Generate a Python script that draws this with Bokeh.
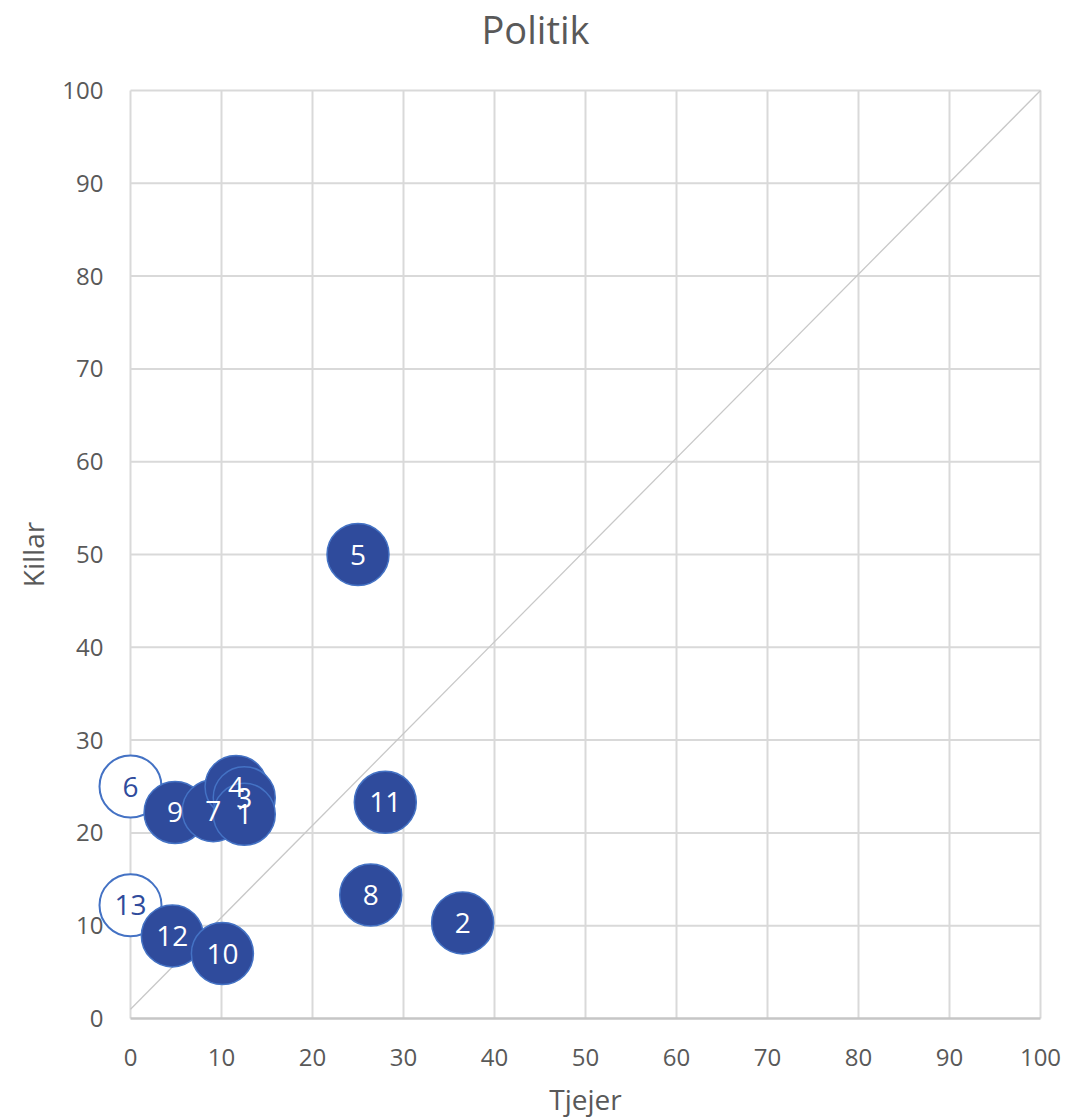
from bokeh.plotting import figure
from bokeh.models import Range1d, FixedTicker, ColumnDataSource, Label
from bokeh.core.properties import value
from bokeh.embed import file_html
from bokeh.resources import INLINE

# ---- data ----
labels = ["1", "2", "3", "4", "5", "6", "7", "8", "9", "10", "11", "12", "13"]
tjejer = [12.5, 36.5, 12.5, 11.6, 25.0, 0.0, 9.1, 26.4, 4.9, 10.1, 28.0, 4.6, 0.0]
killar = [22.0, 10.3, 23.8, 25.0, 50.0, 25.0, 22.4, 13.3, 22.2, 7.0, 23.3, 8.9, 12.2]
open_points = ["6", "13"]
diag_x = [0, 100]
diag_y = [1, 100]
ticks = [0, 10, 20, 30, 40, 50, 60, 70, 80, 90, 100]
title_text = "Politik"

FONT = "Open Sans"
GRAY = "#595959"
FILL = "#2F4B9C"
RING = "#4472C4"
GRID = "#D9D9D9"

# layout: the frame fills the whole canvas; plot area (0..100) sits at
# x 130..1040 px and y 1018..90 px inside it
W, H = 1076, 1119
X0_PX, PX_X = 130, 9.1
Y0_PX, PX_Y = 1018, 9.28
x_range = Range1d(-X0_PX / PX_X, (W - X0_PX) / PX_X)
y_range = Range1d(-(H - Y0_PX) / PX_Y, Y0_PX / PX_Y)

p = figure(width=W, height=H, output_backend="svg", toolbar_location=None,
           x_range=x_range, y_range=y_range,
           min_border_left=0, min_border_right=0, min_border_top=0, min_border_bottom=0)

p.outline_line_color = None
p.background_fill_color = "white"
p.border_fill_color = "white"
p.xgrid.visible = False
p.ygrid.visible = False

for ax in (p.xaxis[0], p.yaxis[0]):
    ax.ticker = FixedTicker(ticks=ticks)
    ax.fixed_location = 0
    ax.bounds = (0, 100)
    ax.major_tick_line_color = None
    ax.minor_tick_line_color = None
    ax.axis_line_color = None
    ax.major_label_text_font = FONT
    ax.major_label_text_font_size = "24px"
    ax.major_label_text_color = GRAY
    ax.axis_label_text_font = FONT
    ax.axis_label_text_font_size = "28px"
    ax.axis_label_text_font_style = "normal"
    ax.axis_label_text_color = GRAY

p.xaxis.axis_label = "Tjejer"
p.yaxis.axis_label = "Killar"
p.xaxis.major_label_standoff = 24
p.yaxis.major_label_standoff = 21
p.xaxis.axis_label_standoff = 11
p.yaxis.axis_label_standoff = 7

# grid lines and axis lines (from tick list), drawn under the markers
n = len(ticks)
p.segment(x0=ticks[1:], y0=[ticks[0]] * (n - 1), x1=ticks[1:], y1=[ticks[-1]] * (n - 1),
          line_color=GRID, line_width=2)
p.segment(x0=[ticks[0]] * (n - 1), y0=ticks[1:], x1=[ticks[-1]] * (n - 1), y1=ticks[1:],
          line_color=GRID, line_width=2)
p.segment(x0=[ticks[0]], y0=[ticks[0]], x1=[ticks[0]], y1=[ticks[-1]], line_color=GRID, line_width=2)
p.segment(x0=[ticks[0]], y0=[ticks[0]], x1=[ticks[-1]], y1=[ticks[0]], line_color="#C6C6C6", line_width=2.5)

p.line(diag_x, diag_y, line_color="#C8C8C8", line_width=1.3)

# markers: open ones first, then filled in reverse order
idx_open = [i for i, l in enumerate(labels) if l in open_points]
idx_fill = [i for i, l in enumerate(labels) if l not in open_points][::-1]

src_open = ColumnDataSource(dict(x=[tjejer[i] for i in idx_open], y=[killar[i] for i in idx_open],
                                 t=[labels[i] for i in idx_open]))
src_fill = ColumnDataSource(dict(x=[tjejer[i] for i in idx_fill], y=[killar[i] for i in idx_fill],
                                 t=[labels[i] for i in idx_fill]))

p.scatter("x", "y", source=src_open, size=62, marker="circle",
          fill_color="white", line_color=RING, line_width=2)
p.scatter("x", "y", source=src_fill, size=62, marker="circle",
          fill_color=FILL, line_color=RING, line_width=1.5)

p.text("x", "y", text="t", source=src_open, text_align="center", text_baseline="middle",
       text_font=value(FONT), text_font_size="28px", text_color=FILL)
p.text("x", "y", text="t", source=src_fill, text_align="center", text_baseline="middle",
       text_font=value(FONT), text_font_size="28px", text_color="white")

# chart title, centred over the whole chart (page x 535, y 28)
p.add_layout(Label(x=(535 - X0_PX) / PX_X, y=(Y0_PX - 28) / PX_Y, x_units="data", y_units="data",
                   text=title_text, text_align="center", text_baseline="middle",
                   text_font=FONT, text_font_size="38px", text_color=GRAY))

open("out.html", "w").write(file_html(p, INLINE))
